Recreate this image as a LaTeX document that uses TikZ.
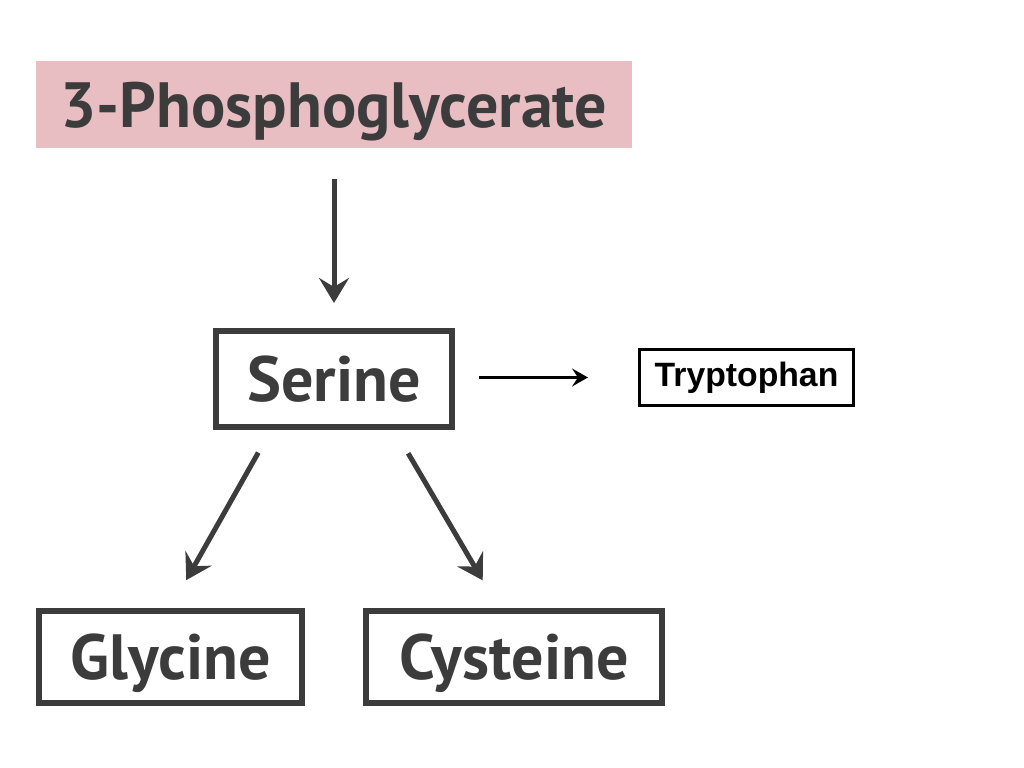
\documentclass[tikz,border=0pt]{standalone}
\usepackage{fontspec}
\usepackage{xcolor}
\usetikzlibrary{arrows.meta,calc}
\newfontfamily\boxfont{PT Sans}
\newfontfamily\arialfont{Liberation Sans}
\definecolor{boxgray}{HTML}{3C3C3C}
\definecolor{pgapink}{HTML}{E8BEC3}
\tikzset{
	aminobox/.style={
			draw=boxgray, line width=0.06cm, text=boxgray,
			font=\boxfont\bfseries\fontsize{18.2}{21}\selectfont,
			inner sep=0pt, text depth=0pt
		},
	grayarrow/.style={
			boxgray, line width=0.05cm,
			-{Stealth[length=0.25cm, width=0.30cm, inset=0.09cm]}
		},
	blackarrow/.style={
			black, line width=0.03cm,
			-{Stealth[length=0.16cm, width=0.18cm, inset=0.06cm]}
		}
}

\begin{document}
\begin{tikzpicture}
		\useasboundingbox (0,0) rectangle (10.24,7.68);
		% Boxes
		\node[fill=pgapink, text=boxgray, inner sep=0pt, text depth=0pt,
			minimum width=5.96cm, minimum height=0.87cm,
			font=\boxfont\bfseries\fontsize{18.2}{21}\selectfont]
			(pga) at (3.34,6.635) {3-Phosphoglycerate};
		\node[aminobox, minimum width=2.36cm, minimum height=0.96cm] (ser) at (3.34,3.89) {Serine};
		\node[aminobox, minimum width=2.63cm, minimum height=0.92cm] (gly) at (1.705,1.11) {Glycine};
		\node[aminobox, minimum width=2.96cm, minimum height=0.92cm] (cys) at (5.14,1.11) {Cysteine};
		\node[draw=black, line width=0.03cm, inner sep=0pt,
			minimum width=2.14cm, minimum height=0.56cm,
			font=\arialfont\bfseries\fontsize{9.6}{11}\selectfont]
			(tryp) at (7.465,3.905) {Tryptophan};
		% Arrows
		\draw[grayarrow, shorten <=0.30cm, shorten >=0.25cm] (pga.south) -- (ser.north);
		\draw[blackarrow, shorten <=0.24cm, shorten >=0.50cm] (ser.east |- tryp.west) -- (tryp.west);
		\draw[grayarrow, shorten <=0.26cm, shorten >=0.32cm]
			($(ser.south west)!0.24!(ser.south east)$) -- (gly.north);
		\draw[grayarrow, shorten <=0.27cm, shorten >=0.32cm]
			($(ser.south west)!0.75!(ser.south east)$) -- ($(cys.north west)!0.45!(cys.north east)$);
	\end{tikzpicture}
\end{document}
